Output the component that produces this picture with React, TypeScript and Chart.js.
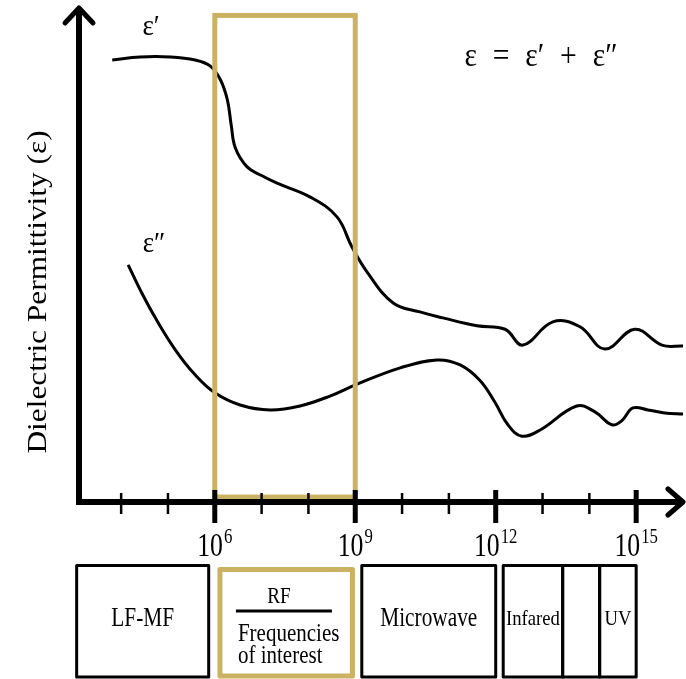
import React, { useEffect, useRef } from 'react';
import { Chart, registerables } from 'chart.js';

Chart.register(...registerables);

// ---- data (x = log10 of frequency in Hz, y = relative permittivity, arbitrary units) ----
const decadeTicks = [4, 5, 6, 7, 8, 9, 10, 11, 12, 13, 14, 15];
const majorTicks = [6, 9, 12, 15];
const tickBase = '10';

const epsRealX = [3.81, 4.41, 5.05, 5.58, 5.9, 6.12, 6.27, 6.35, 6.44, 6.69, 7.01, 7.33, 8.04, 8.61, 8.93, 9.25, 9.81, 10.38, 10.87, 11.6, 12.2, 12.58, 13.22, 13.8, 14.33, 14.97, 15.55, 16.0];
const epsRealY = [89.3, 89.9, 89.9, 89.3, 88.1, 85.3, 81.2, 76.2, 71.5, 67.7, 65.9, 64.4, 61.6, 57.6, 51.5, 46.5, 40.2, 38.4, 37.2, 35.6, 34.9, 31.7, 36.4, 35.4, 30.9, 34.9, 31.7, 31.5];

const epsImagX = [4.15, 4.41, 4.73, 5.16, 5.58, 6.01, 6.54, 7.18, 7.82, 8.46, 9.04, 9.96, 10.75, 11.24, 11.66, 11.98, 12.26, 12.56, 12.94, 13.73, 14.12, 14.48, 14.69, 14.93, 15.25, 15.61, 16.0];
const epsImagY = [47.9, 42.8, 37.2, 30.7, 25.7, 22.0, 19.6, 18.6, 19.4, 21.4, 23.8, 27.1, 28.7, 27.7, 24.6, 20.2, 15.6, 13.3, 14.5, 19.4, 18.2, 15.6, 16.4, 19.0, 18.6, 18.0, 17.8];

const highlightRange = [6, 9];
const highlightY = [1.0, 98.3];

const bandLabels = ['LF-MF', 'RF', 'Microwave', 'Infared', '', 'UV'];
const bandStart = [3.05, 6.11, 9.14, 12.16, 13.43, 14.22];
const bandEnd = [5.87, 8.94, 12.0, 13.43, 14.22, 15.0];

const realLabel = 'ε′';
const imagLabel = 'ε″';
const equationParts = ['ε', '=', 'ε′', '+', 'ε″'];
const yTitle = 'Dielectric Permittivity (ε)';
const rfSubtitle = ['Frequencies', 'of interest'];

// ---- styling ----
const W = 686;
const H = 679;
const FONT = '"Liberation Serif", "Times New Roman", serif';
const GOLD = '#CBB262';

function drawText(
  ctx: CanvasRenderingContext2D,
  s: string,
  x: number,
  y: number,
  size: number,
  opts: { align?: CanvasTextAlign; baseline?: CanvasTextBaseline; sx?: number; rotate?: number } = {}
) {
  ctx.save();
  ctx.translate(x, y);
  if (opts.rotate) ctx.rotate(opts.rotate);
  ctx.scale(opts.sx ?? 1, 1);
  ctx.font = `${size}px ${FONT}`;
  ctx.textAlign = opts.align ?? 'center';
  ctx.textBaseline = opts.baseline ?? 'alphabetic';
  ctx.fillStyle = '#000';
  ctx.fillText(s, 0, 0);
  ctx.restore();
}

function textWidth(ctx: CanvasRenderingContext2D, s: string, size: number, sx = 1) {
  ctx.save();
  ctx.font = `${size}px ${FONT}`;
  const w = ctx.measureText(s).width * sx;
  ctx.restore();
  return w;
}

const schematicPlugin = {
  id: 'schematic',
  afterDatasetsDraw(chart: any) {
    const ctx: CanvasRenderingContext2D = chart.ctx;
    const { left, right, bottom, top } = chart.chartArea;
    const xs = chart.scales.x;
    const ys = chart.scales.y;
    ctx.save();

    // highlight rectangle
    const gx0 = xs.getPixelForValue(highlightRange[0]);
    const gx1 = xs.getPixelForValue(highlightRange[1]);
    const gy0 = ys.getPixelForValue(highlightY[1]);
    const gy1 = ys.getPixelForValue(highlightY[0]);
    ctx.strokeStyle = GOLD;
    ctx.lineWidth = 5;
    ctx.lineJoin = 'miter';
    ctx.strokeRect(gx0, gy0, gx1 - gx0, gy1 - gy0);

    // axes
    ctx.strokeStyle = '#000';
    ctx.lineWidth = 6;
    ctx.lineJoin = 'miter';
    ctx.lineCap = 'butt';
    ctx.beginPath();
    ctx.moveTo(left, top + 3);
    ctx.lineTo(left, bottom);
    ctx.lineTo(right - 2, bottom);
    ctx.stroke();
    // arrow heads
    ctx.lineWidth = 5;
    ctx.lineJoin = 'round';
    ctx.lineCap = 'round';
    ctx.beginPath();
    ctx.moveTo(left - 14, top + 16);
    ctx.lineTo(left, top + 1);
    ctx.lineTo(left + 14, top + 16);
    ctx.stroke();
    ctx.beginPath();
    ctx.moveTo(right - 15, bottom - 13);
    ctx.lineTo(right, bottom);
    ctx.lineTo(right - 15, bottom + 13);
    ctx.stroke();
    // ticks
    ctx.lineCap = 'butt';
    decadeTicks.forEach((t) => {
      const px = xs.getPixelForValue(t);
      const major = majorTicks.includes(t);
      ctx.lineWidth = major ? 5 : 2.5;
      ctx.beginPath();
      ctx.moveTo(px, bottom - (major ? 12 : 9));
      ctx.lineTo(px, bottom + (major ? 21 : 12));
      ctx.stroke();
    });

    // tick labels 10^n
    const baseSize = 33;
    const baseSx = 0.78;
    const expSize = 21;
    const expSx = 0.8;
    majorTicks.forEach((t) => {
      const px = xs.getPixelForValue(t);
      const exp = String(t);
      const wb = textWidth(ctx, tickBase, baseSize, baseSx);
      const we = textWidth(ctx, exp, expSize, expSx);
      const x0 = px - (wb + we + 1) / 2;
      drawText(ctx, tickBase, x0, bottom + 54, baseSize, { align: 'left', sx: baseSx });
      drawText(ctx, exp, x0 + wb + 1, bottom + 41, expSize, { align: 'left', sx: expSx });
    });

    // curve labels
    drawText(ctx, realLabel, 151, 35, 30, { sx: 0.9 });
    drawText(ctx, imagLabel, 154, 252, 30, { sx: 0.9 });

    // equation, spread with math spacing
    const eqSize = 33;
    const eqSx = 0.9;
    const eqTotal = 153;
    const widths = equationParts.map((p) => textWidth(ctx, p, eqSize, eqSx));
    const gap = (eqTotal - widths.reduce((a, b) => a + b, 0)) / (equationParts.length - 1);
    let ex = 541 - eqTotal / 2;
    equationParts.forEach((p, i) => {
      drawText(ctx, p, ex, 66, eqSize, { align: 'left', sx: eqSx });
      ex += widths[i] + gap;
    });

    // y-axis title
    drawText(ctx, yTitle, 39, 292, 28, { rotate: -Math.PI / 2, baseline: 'middle', sx: 1.12 });

    // frequency band boxes
    const boxTop = 565.5;
    const boxBottom = 677;
    bandLabels.forEach((lab, i) => {
      const x0 = xs.getPixelForValue(bandStart[i]);
      const x1 = xs.getPixelForValue(bandEnd[i]);
      const isRF = lab === 'RF';
      ctx.strokeStyle = isRF ? GOLD : '#000';
      ctx.lineWidth = isRF ? 5 : 3;
      if (isRF) {
        ctx.strokeRect(x0, boxTop + 4, x1 - x0, boxBottom - boxTop - 5);
      } else {
        ctx.strokeRect(x0, boxTop, x1 - x0, boxBottom - boxTop);
      }
      const cx = (x0 + x1) / 2;
      if (isRF) {
        drawText(ctx, lab, x0 + 59, 597, 24, { baseline: 'middle', sx: 0.8 });
        ctx.strokeStyle = '#000';
        ctx.lineWidth = 3;
        ctx.beginPath();
        ctx.moveTo(x0 + 16, 611);
        ctx.lineTo(x0 + 112, 611);
        ctx.stroke();
        drawText(ctx, rfSubtitle[0], x0 + 18, 634, 25, { align: 'left', baseline: 'middle', sx: 0.84 });
        drawText(ctx, rfSubtitle[1], x0 + 18, 656, 25, { align: 'left', baseline: 'middle', sx: 0.84 });
      } else if (lab) {
        const small = lab === 'Infared' || lab === 'UV';
        drawText(ctx, lab, cx, 619, small ? 22 : 27, { baseline: 'middle', sx: small ? 0.85 : 0.79 });
      }
    });
    ctx.restore();
  },
};

export default function App() {
  const canvasRef = useRef<HTMLCanvasElement | null>(null);

  useEffect(() => {
    const canvas = canvasRef.current;
    if (!canvas) return;
    const chart = new Chart(canvas, {
      type: 'line',
      data: {
        datasets: [
          {
            label: realLabel,
            data: epsRealX.map((x, i) => ({ x, y: epsRealY[i] })),
            borderColor: '#000',
            borderWidth: 3,
            pointRadius: 0,
            tension: 0.4,
            fill: false,
          },
          {
            label: imagLabel,
            data: epsImagX.map((x, i) => ({ x, y: epsImagY[i] })),
            borderColor: '#000',
            borderWidth: 3,
            pointRadius: 0,
            tension: 0.4,
            fill: false,
          },
        ],
      },
      options: {
        responsive: false,
        animation: false,
        devicePixelRatio: 1,
        layout: { padding: { left: 79, right: 3, top: 7, bottom: 177 } },
        plugins: { legend: { display: false }, tooltip: { enabled: false } },
        scales: {
          x: { type: 'linear', min: 3.1, max: 16.0, display: false },
          y: { type: 'linear', min: 0, max: 100, display: false },
        },
      },
      plugins: [schematicPlugin],
    });
    return () => chart.destroy();
  }, []);

  return (
    <div style={{ position: 'absolute', left: 0, top: 0, width: W, height: H, background: '#fff' }}>
      <canvas ref={canvasRef} width={W} height={H} style={{ display: 'block', width: W, height: H }} />
    </div>
  );
}
